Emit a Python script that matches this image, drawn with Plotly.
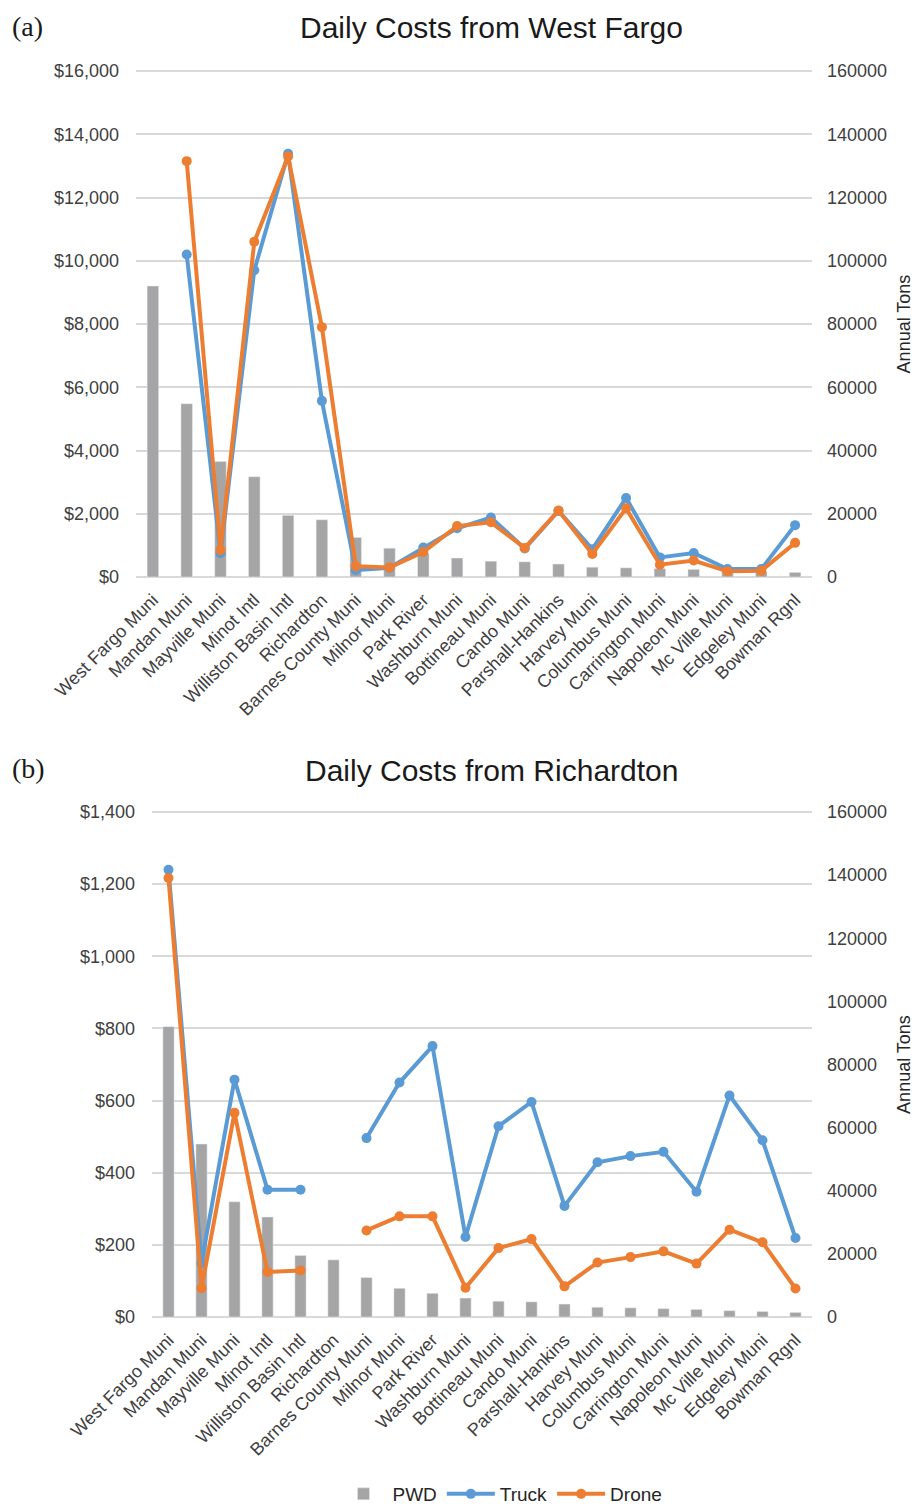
import plotly.graph_objects as go

# 空港（横軸カテゴリ）
airports = ["West Fargo Muni", "Mandan Muni", "Mayville Muni", "Minot Intl",
            "Williston Basin Intl", "Richardton", "Barnes County Muni", "Milnor Muni",
            "Park River", "Washburn Muni", "Bottineau Muni", "Cando Muni",
            "Parshall-Hankins", "Harvey Muni", "Columbus Muni", "Carrington Muni",
            "Napoleon Muni", "Mc Ville Muni", "Edgeley Muni", "Bowman Rgnl"]

# PWD（年間トン数、右軸）
pwd_tons = [92000, 54800, 36500, 31700, 19500, 18100, 12500, 9100, 7500, 6000,
            5000, 4800, 4100, 3100, 2900, 2650, 2400, 2000, 1750, 1450]

# (a) West Fargo からの日次コスト
wf_truck = [None, 10200, 750, 9700, 13380, 5570, 220, 290, 930, 1540,
            1880, 900, 2090, 880, 2500, 620, 760, 250, 250, 1640]
wf_drone = [None, 13150, 850, 10600, 13300, 7900, 340, 300, 790, 1610,
            1730, 920, 2100, 730, 2170, 390, 520, 180, 200, 1080]

# (b) Richardton からの日次コスト
ri_truck = [1240, 150, 658, 353, 353, None, 496, 650, 751, 222,
            529, 596, 308, 429, 446, 458, 347, 614, 490, 219]
ri_drone = [1217, 80, 566, 125, 129, None, 240, 279, 279, 81,
            191, 216, 85, 151, 166, 182, 148, 242, 207, 79]

# ページ余白（body margin 8px）を差し引いた図のサイズ
OFF = 8
W, H = 922 - OFF, 1507 - OFF
FONT = "Liberation Sans, Arial, sans-serif"
GRAY = "#a5a5a5"
BLUE = "#5b9bd5"
ORANGE = "#ed7d31"
GRID = "#d9d9d9"
PAD = 2  # 端のグリッド線が消えないように上下へ少し広げる（px）


def px_x(v):
    return (v - OFF) / W


def px_y(v):
    return 1 - (v - OFF) / H


def padded(top, bottom, vmax):
    # 領域を上下 PAD px 広げ、その分だけ範囲も広げて値の位置は変えない
    ext = PAD * vmax / (bottom - top)
    return [px_y(bottom + PAD), px_y(top - PAD)], [-ext, vmax + ext]


fig = go.Figure()

panels = [
    # (xaxis, bar yaxis, line yaxis, truck, drone, legend)
    ("x", "y", "y2", wf_truck, wf_drone, True),
    ("x2", "y3", "y4", ri_truck, ri_drone, False),
]

for xa, yb, yl, truck, drone, show in panels:
    fig.add_trace(go.Bar(x=airports, y=pwd_tons, name="PWD", marker_color=GRAY,
                         xaxis=xa, yaxis=yb, showlegend=show, legendgroup="pwd"))
    fig.add_trace(go.Scatter(x=airports, y=truck, name="Truck", mode="lines+markers",
                             line=dict(color=BLUE, width=4), marker=dict(size=10, color=BLUE),
                             xaxis=xa, yaxis=yl, showlegend=show, legendgroup="truck"))
    fig.add_trace(go.Scatter(x=airports, y=drone, name="Drone", mode="lines+markers",
                             line=dict(color=ORANGE, width=4), marker=dict(size=10, color=ORANGE),
                             xaxis=xa, yaxis=yl, showlegend=show, legendgroup="drone"))

tick_font = dict(family=FONT, size=18, color="#404040")
axis_title_font = dict(family=FONT, size=18, color="#262626")

xcommon = dict(type="category", range=[-0.5, len(airports) - 0.5], tickangle=-45,
               showgrid=False, zeroline=False, showline=False, ticks="",
               tickfont=tick_font, ticklabelstandoff=6, automargin=False)
ybar = dict(side="right", dtick=20000, tickformat="d", showgrid=False,
            zeroline=False, tickfont=tick_font, ticklabelstandoff=14, automargin=False,
            title=dict(text="Annual Tons", font=axis_title_font, standoff=11))
yline = dict(side="left", tickprefix="$", tickformat=",d", showgrid=True, gridcolor=GRID,
             gridwidth=2, zeroline=False, tickfont=tick_font, ticklabelstandoff=16,
             automargin=False)

dom_a, rng_a_bar = padded(71, 577, 160000)
_, rng_a_cost = padded(71, 577, 16000)
dom_b, rng_b_bar = padded(812, 1317, 160000)
_, rng_b_cost = padded(812, 1317, 1400)

fig.update_layout(
    xaxis=dict(domain=[px_x(136), px_x(812)], anchor="y", **xcommon),
    xaxis2=dict(domain=[px_x(152), px_x(812)], anchor="y3", **xcommon),
    # 上段：右軸（棒）、左軸（線）
    yaxis=dict(domain=dom_a, anchor="x", range=rng_a_bar, **ybar),
    yaxis2=dict(overlaying="y", anchor="x", range=rng_a_cost, dtick=2000, **yline),
    # 下段
    yaxis3=dict(domain=dom_b, anchor="x2", range=rng_b_bar, **ybar),
    yaxis4=dict(overlaying="y3", anchor="x2", range=rng_b_cost, dtick=200, **yline),
    bargap=0.66,
    width=W, height=H,
    margin=dict(l=0, r=0, t=0, b=0, autoexpand=False),
    paper_bgcolor="white", plot_bgcolor="white",
    legend=dict(orientation="h", x=px_x(501), xanchor="center", y=px_y(1494),
                yanchor="middle", itemwidth=48,
                font=dict(family=FONT, size=19, color="#262626")),
)

title_font = dict(family=FONT, size=30, color="#1a1a1a")
label_font = dict(family="Liberation Serif, Times New Roman, serif", size=28, color="#1a1a1a")
for yy, title, label in [(28, "Daily Costs from West Fargo", "(a)"),
                         (770, "Daily Costs from Richardton", "(b)")]:
    fig.add_annotation(text=title, x=px_x(491), y=px_y(yy), xref="paper", yref="paper",
                       xanchor="center", yanchor="middle", showarrow=False, font=title_font)
    fig.add_annotation(text=label, x=px_x(10), y=px_y(yy - 2), xref="paper", yref="paper",
                       xanchor="left", yanchor="middle", showarrow=False, font=label_font)

fig.write_html("out.html")
